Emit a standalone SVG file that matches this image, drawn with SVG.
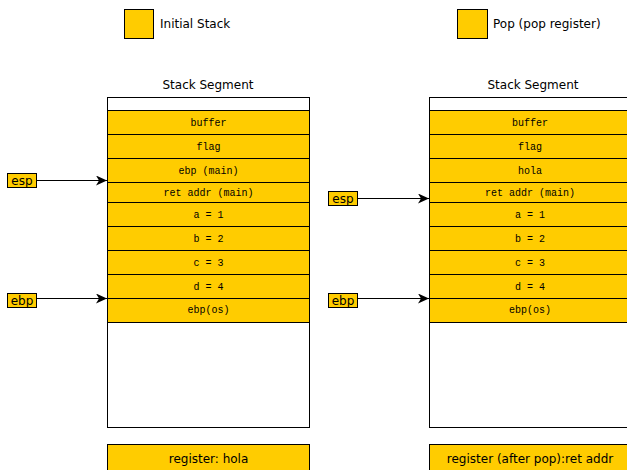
<svg xmlns="http://www.w3.org/2000/svg" width="627" height="470" viewBox="0 0 627 470">
<defs>
<style>
.sans{font-family:"DejaVu Sans","Liberation Sans",sans-serif;font-size:12px;fill:#000}
.mono{font-family:"Liberation Mono","DejaVu Sans Mono",monospace;font-size:10px;fill:#000;text-anchor:middle}
.cell{fill:#ffcc00;stroke:#000;stroke-width:1}
.frame{fill:#fff;stroke:#000;stroke-width:1}
.ptr{fill:#ffcc00;stroke:#000;stroke-width:1}
.conn{stroke:#000;stroke-width:1;fill:none;marker-end:url(#arr)}
</style>
<marker id="arr" markerWidth="12" markerHeight="10" refX="11" refY="5" orient="auto" markerUnits="userSpaceOnUse">
<path d="M0,0 L11,5 L0,10 L3,5 Z" fill="#000"/>
</marker>
</defs>
<rect width="627" height="470" fill="#fff"/>
<g id="legend-initial">
<rect x="124.5" y="9.5" width="29" height="29" class="cell"/>
<text x="160" y="28" class="sans">Initial Stack</text>
</g>
<g id="legend-pop">
<rect x="457.5" y="9.5" width="30" height="29" class="cell"/>
<text x="493" y="28" class="sans">Pop (pop register)</text>
</g>
<g id="stack-left">
<text x="208" y="89" class="sans" text-anchor="middle">Stack Segment</text>
<rect x="107.5" y="97.5" width="202" height="330" class="frame"/>
<rect x="107.5" y="110.5" width="202" height="24" class="cell"/><text x="208.5" y="126" class="mono">buffer</text>
<rect x="107.5" y="134.5" width="202" height="24" class="cell"/><text x="208.5" y="150" class="mono">flag</text>
<rect x="107.5" y="158.5" width="202" height="24" class="cell"/><text x="208.5" y="174" class="mono">ebp (main)</text>
<rect x="107.5" y="182.5" width="202" height="20" class="cell"/><text x="208.5" y="196" class="mono">ret addr (main)</text>
<rect x="107.5" y="202.5" width="202" height="24" class="cell"/><text x="208.5" y="218" class="mono">a = 1</text>
<rect x="107.5" y="226.5" width="202" height="24" class="cell"/><text x="208.5" y="242" class="mono">b = 2</text>
<rect x="107.5" y="250.5" width="202" height="24" class="cell"/><text x="208.5" y="266" class="mono">c = 3</text>
<rect x="107.5" y="274.5" width="202" height="24" class="cell"/><text x="208.5" y="290" class="mono">d = 4</text>
<rect x="107.5" y="298.5" width="202" height="24" class="cell"/><text x="208.5" y="313" class="mono">ebp(os)</text>
</g>
<g id="register-left">
<rect x="107.5" y="444.5" width="202" height="30" class="cell"/>
<text x="208.5" y="463" class="sans" text-anchor="middle">register: hola</text>
</g>
<g id="esp-left">
<rect x="7.5" y="173.5" width="29" height="14" class="ptr"/>
<text x="22" y="185" class="sans" text-anchor="middle">esp</text>
</g>
<g id="ebp-left">
<rect x="7.5" y="293.5" width="29" height="14" class="ptr"/>
<text x="22" y="305" class="sans" text-anchor="middle">ebp</text>
</g>
<g id="stack-right">
<text x="533" y="89" class="sans" text-anchor="middle">Stack Segment</text>
<rect x="429.5" y="97.5" width="202" height="330" class="frame"/>
<rect x="429.5" y="110.5" width="202" height="24" class="cell"/><text x="530" y="126" class="mono">buffer</text>
<rect x="429.5" y="134.5" width="202" height="24" class="cell"/><text x="530" y="150" class="mono">flag</text>
<rect x="429.5" y="158.5" width="202" height="24" class="cell"/><text x="530" y="174" class="mono">hola</text>
<rect x="429.5" y="182.5" width="202" height="20" class="cell"/><text x="530" y="196" class="mono">ret addr (main)</text>
<rect x="429.5" y="202.5" width="202" height="24" class="cell"/><text x="530" y="218" class="mono">a = 1</text>
<rect x="429.5" y="226.5" width="202" height="24" class="cell"/><text x="530" y="242" class="mono">b = 2</text>
<rect x="429.5" y="250.5" width="202" height="24" class="cell"/><text x="530" y="266" class="mono">c = 3</text>
<rect x="429.5" y="274.5" width="202" height="24" class="cell"/><text x="530" y="290" class="mono">d = 4</text>
<rect x="429.5" y="298.5" width="202" height="24" class="cell"/><text x="530" y="313" class="mono">ebp(os)</text>
</g>
<g id="register-right">
<rect x="429.5" y="444.5" width="202" height="30" class="cell"/>
<text x="530" y="463" class="sans" text-anchor="middle">register (after pop):ret addr</text>
</g>
<g id="esp-right">
<rect x="328.5" y="191.5" width="29" height="14" class="ptr"/>
<text x="343" y="203" class="sans" text-anchor="middle">esp</text>
</g>
<g id="ebp-right">
<rect x="328.5" y="293.5" width="29" height="14" class="ptr"/>
<text x="343" y="305" class="sans" text-anchor="middle">ebp</text>
</g>
<g id="connectors">
<path d="M36.5,180.5 L107,180.5" class="conn"/>
<path d="M36.5,298.5 L107,298.5" class="conn"/>
<path d="M357.5,198.5 L429,198.5" class="conn"/>
<path d="M357.5,298.5 L429,298.5" class="conn"/>
</g>
</svg>
